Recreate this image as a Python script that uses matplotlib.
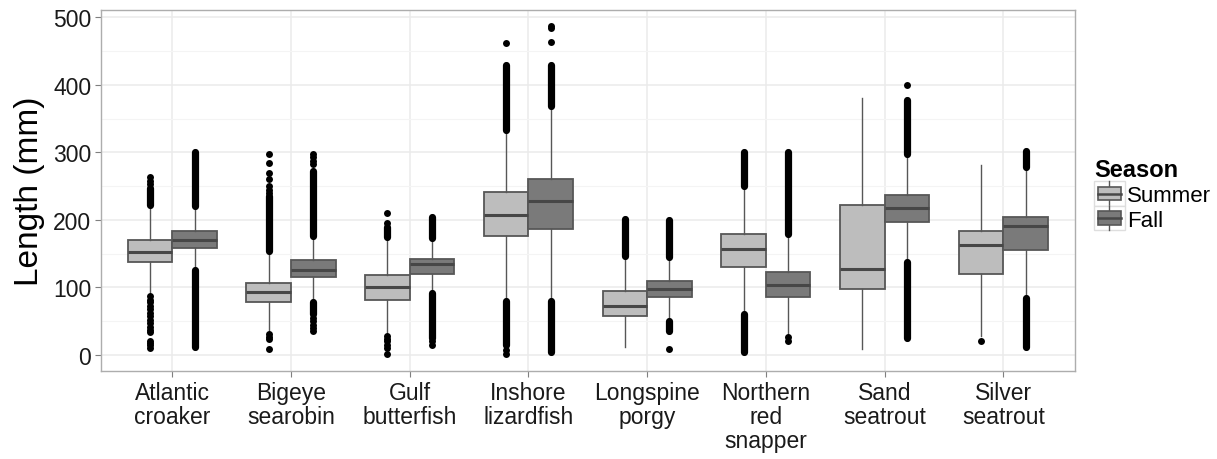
import numpy as np
import matplotlib
matplotlib.use("Agg")
import matplotlib.pyplot as plt
from matplotlib.legend_handler import HandlerBase
from matplotlib.patches import Rectangle, Patch
from matplotlib.lines import Line2D

plt.rcParams['font.family'] = ['Liberation Sans', 'DejaVu Sans']

# species on the x axis
species = ['Atlantic\ncroaker', 'Bigeye\nsearobin', 'Gulf\nbutterfish', 'Inshore\nlizardfish',
           'Longspine\nporgy', 'Northern\nred\nsnapper', 'Sand\nseatrout', 'Silver\nseatrout']
seasons = ['Summer', 'Fall']

# box statistics (mm)
summer_whislo = [90, 34, 33, 80, 12, 61, 9, 28]
summer_q1 = [137, 78, 82, 176, 58, 131, 98, 120]
summer_med = [153, 93, 101, 208, 72, 157, 127, 163]
summer_q3 = [171, 107, 119, 241, 94, 179, 222, 184]
summer_whishi = [221, 154, 173, 334, 147, 250, 380, 281]

fall_whislo = [126, 80, 93, 80, 51, 31, 137, 85]
fall_q1 = [158, 116, 120, 187, 86, 86, 197, 156]
fall_med = [171, 126, 134, 228, 97, 104, 218, 191]
fall_q3 = [184, 140, 142, 260, 110, 123, 237, 204]
fall_whishi = [221, 176, 172, 369, 145, 179, 297, 278]

# outliers: dense runs (lo, hi) and single points
summer_runs = [[(222, 248)], [(154, 235)], [(174, 190)], [(334, 430), (15, 80)],
               [(147, 202)], [(250, 300), (4, 60)], [], []]
summer_points = [[253, 258, 263, 88, 82, 78, 72, 68, 62, 58, 52, 47, 42, 37, 34, 20, 17, 14, 11],
                 [240, 245, 250, 260, 270, 285, 298, 31, 27, 23, 9],
                 [195, 210, 28, 24, 20, 15, 10, 2],
                 [462, 7, 2],
                 [], [], [], [21]]
fall_runs = [[(221, 300), (12, 126)], [(176, 272), (60, 78)], [(173, 205), (25, 92)],
             [(369, 430), (5, 80)], [(145, 200), (35, 50)], [(179, 300)],
             [(297, 378), (25, 137)], [(278, 302), (12, 85)]]
fall_points = [[], [283, 288, 293, 298, 55, 50, 45, 40, 35], [20, 14], [463, 485, 488],
               [9], [27, 21], [400], []]

fills = {'Summer': '#bdbdbd', 'Fall': '#7a7a7a'}
edge = '#575757'


def make_stats(lo, q1, med, q3, hi):
    return [{'whislo': a, 'q1': b, 'med': c, 'q3': d, 'whishi': e}
            for a, b, c, d, e in zip(lo, q1, med, q3, hi)]


fig = plt.figure(figsize=(12.17, 4.6), dpi=100)
ax = fig.add_axes([0.083, 0.191, 0.8, 0.785])

x = np.arange(1, len(species) + 1)
w = 0.375
season_data = {
    'Summer': (make_stats(summer_whislo, summer_q1, summer_med, summer_q3, summer_whishi),
               summer_runs, summer_points, -w / 2),
    'Fall': (make_stats(fall_whislo, fall_q1, fall_med, fall_q3, fall_whishi),
             fall_runs, fall_points, w / 2),
}

for s in seasons:
    stats, runs, points, off = season_data[s]
    pos = x + off
    ax.bxp(stats, positions=pos, widths=w, showfliers=False, showcaps=False,
           patch_artist=True,
           boxprops=dict(facecolor=fills[s], edgecolor=edge, linewidth=1.3),
           whiskerprops=dict(color=edge, linewidth=1.0),
           medianprops=dict(color='#474747', linewidth=2.2),
           zorder=3)
    for p, rr, pts in zip(pos, runs, points):
        for lo, hi in rr:
            ax.plot([p, p], [lo, hi], color='black', lw=5.2,
                    solid_capstyle='round', zorder=4)
        if pts:
            ax.plot([p] * len(pts), pts, 'o', color='black', markersize=5.0,
                    markeredgewidth=0, zorder=4)

ax.set_xlim(0.4, len(species) + 0.6)
ax.set_ylim(-24, 511)
ax.set_xticks(x)
ax.set_xticklabels(species, fontsize=16.5, linespacing=1.05)
ax.set_yticks([0, 100, 200, 300, 400, 500])
ax.set_yticks([50, 150, 250, 350, 450], minor=True)
ax.tick_params(axis='both', which='major', length=4, color='#7f7f7f', labelsize=16.5,
               labelcolor='#1a1a1a', pad=3)
ax.tick_params(axis='y', which='minor', length=0)
ax.set_ylabel('Length (mm)', fontsize=24, labelpad=6)

ax.set_axisbelow(True)
ax.grid(True, which='major', color='#ebebeb', linewidth=1.1)
ax.grid(True, which='minor', axis='y', color='#f4f4f4', linewidth=0.8)
for sp in ax.spines.values():
    sp.set_color('#adadad')
    sp.set_linewidth(1.0)


class BoxKey(HandlerBase):
    def create_artists(self, legend, orig_handle, xdescent, ydescent, width, height,
                       fontsize, trans):
        bg = Rectangle((-xdescent, -ydescent), width, height, facecolor='white',
                       edgecolor='#dedede', lw=1.0, transform=trans)
        cx = -xdescent + width / 2
        wl = Line2D([cx, cx], [-ydescent, -ydescent + height], color=edge, lw=1.0,
                    transform=trans)
        box = Rectangle((-xdescent + width * 0.12, -ydescent + height * 0.22), width * 0.76,
                        height * 0.56, facecolor=orig_handle.get_facecolor(),
                        edgecolor=edge, lw=1.2, transform=trans)
        md = Line2D([-xdescent + width * 0.12, -xdescent + width * 0.88],
                    [-ydescent + height / 2] * 2, color='#474747', lw=1.8, transform=trans)
        return [bg, wl, box, md]


handles = [Patch(facecolor=fills[s]) for s in seasons]
leg = fig.legend(handles, seasons, handler_map={Patch: BoxKey()},
                 loc='center left', bbox_to_anchor=(0.886, 0.575), frameon=False,
                 fontsize=16, title='Season',
                 title_fontproperties={'weight': 'bold', 'size': 17},
                 handlelength=1.4, handleheight=1.3, handletextpad=0.08,
                 labelspacing=0.0, borderpad=0.2)
leg._legend_box.align = 'left'

fig.savefig('out.png', dpi=100)
